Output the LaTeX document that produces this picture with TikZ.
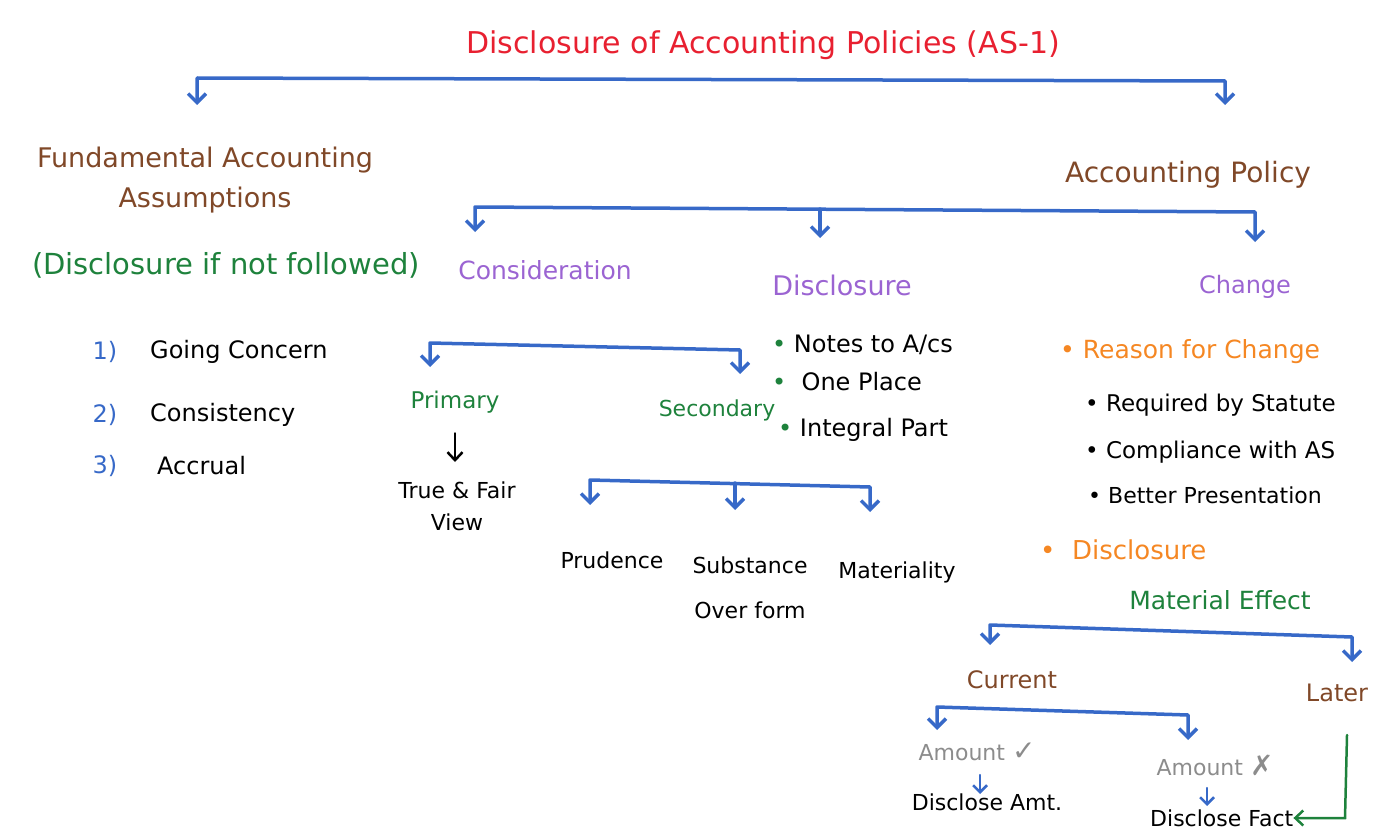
\documentclass[tikz,border=0pt]{standalone}
\usepackage{fontspec}
\setmainfont{DejaVu Sans}
\usepackage{tikz}
\usepackage{xcolor}
\usetikzlibrary{arrows.meta}
\definecolor{titlered}{RGB}{232,32,48}
\definecolor{headbrown}{RGB}{128,72,40}
\definecolor{notegreen}{RGB}{30,130,60}
\definecolor{subpurple}{RGB}{155,100,210}
\definecolor{branchblue}{RGB}{55,105,200}
\definecolor{reasonorange}{RGB}{245,135,35}
\definecolor{amtgrey}{RGB}{140,140,140}
\tikzset{
    hand/.style = {inner sep=0pt, font=\fontsize{24}{30}\selectfont},
    title-text/.style = {hand, text=titlered, font=\fontsize{30}{36}\selectfont},
    head-text/.style = {hand, text=headbrown},
    sub-text/.style = {hand, text=subpurple},
    note-text/.style = {hand, text=notegreen},
    item-text/.style = {hand, text=black},
    reason-text/.style = {hand, text=reasonorange},
    amt-text/.style = {hand, text=amtgrey},
    branch/.style = {draw=branchblue, line width=3.5pt, line cap=round, line join=round, >={Straight Barb[length=9pt,width=18pt]}, ->},
    tick-arrow/.style = {line width=2.5pt, line cap=round, -{Straight Barb[length=8pt,width=15pt]}},
}

\begin{document}
\begin{tikzpicture}[x=1pt,y=-1pt]
\useasboundingbox (0,0) rectangle (1380,832);

% title and the two main heads
\node[title-text] (title) at (763,45) {Disclosure of Accounting Policies (AS-1)};
\node[head-text, align=center, font=\fontsize{27}{40}\selectfont] (fund) at (205,180) {Fundamental Accounting\\Assumptions};
\node[note-text, font=\fontsize{29}{34}\selectfont] (fund-note) at (226,265) {(Disclosure if not followed)};
\node[head-text, font=\fontsize{28}{34}\selectfont] (policy) at (1188,175) {Accounting Policy};
\coordinate (fund-tip) at (197,105);
\coordinate (policy-tip) at (1225,105);
\draw[branch, <->] (fund-tip) -- (197,78) -- (1225,81) -- (policy-tip);

% assumptions
\node[hand, text=branchblue] (num1) at (105,352) {1)};
\node[hand, text=branchblue] (num2) at (105,415) {2)};
\node[hand, text=branchblue] (num3) at (105,466) {3)};
\node[item-text, anchor=west] (going) at (150,352) {Going Concern};
\node[item-text, anchor=west] (consist) at (150,415) {Consistency};
\node[item-text, anchor=west] (accrual) at (157,466) {Accrual};

% accounting policy split
\node[sub-text, font=\fontsize{25}{30}\selectfont] (consider) at (545,270) {Consideration};
\node[sub-text, font=\fontsize{27}{30}\selectfont] (disc) at (842,285) {Disclosure};
\node[sub-text] (change) at (1245,287) {Change};
\coordinate (consider-tip) at (475,232);
\coordinate (disc-tip) at (820,238);
\coordinate (change-tip) at (1255,242);
\draw[branch, <->] (consider-tip) -- (475,207) -- (1255,212) -- (change-tip);
\draw[branch] (820,209) -- (disc-tip);

% consideration
\node[note-text, font=\fontsize{23}{28}\selectfont] (primary) at (455,402) {Primary};
\node[note-text, font=\fontsize{22}{28}\selectfont] (secondary) at (717,410) {Secondary};
\coordinate (primary-tip) at (430,367);
\coordinate (secondary-tip) at (740,374);
\draw[branch, <->] (primary-tip) -- (430,343) -- (740,350) -- (secondary-tip);
\node[item-text, align=center, font=\fontsize{22}{32}\selectfont] (truefair) at (457,506) {True \& Fair\\View};
\draw[tick-arrow] (primary.south) ++(0,20) coordinate (primary-arrow) -- (455,462);
\node[item-text, font=\fontsize{22}{28}\selectfont] (prudence) at (612,560) {Prudence};
\node[item-text, align=center, font=\fontsize{22}{45}\selectfont] (substance) at (750,588) {Substance\\Over form};
\node[item-text, font=\fontsize{22}{28}\selectfont] (material) at (897,572) {Materiality};
\coordinate (prudence-tip) at (590,505);
\coordinate (substance-tip) at (735,510);
\coordinate (material-tip) at (870,512);
\draw[branch, <->] (prudence-tip) -- (590,480) -- (870,487) -- (material-tip);
\draw[branch] (735,483) -- (substance-tip);

% disclosure list
\node[item-text, anchor=west] (notes) at (772,345) {\textcolor{notegreen}{\textbullet} Notes to A/cs};
\node[item-text, anchor=west] (oneplace) at (772,382) {\textcolor{notegreen}{\textbullet}\ \ One Place};
\node[item-text, anchor=west] (integral) at (778,430) {\textcolor{notegreen}{\textbullet} Integral Part};

% change
\node[reason-text, anchor=west, font=\fontsize{25}{30}\selectfont] (reason) at (1060,352) {\textbullet\ Reason for Change};
\node[item-text, anchor=west, font=\fontsize{23}{28}\selectfont] (required) at (1085,405) {\textbullet\ Required by Statute};
\node[item-text, anchor=west, font=\fontsize{23}{28}\selectfont] (compliance) at (1085,452) {\textbullet\ Compliance with AS};
\node[item-text, anchor=west, font=\fontsize{22}{28}\selectfont] (better) at (1088,495) {\textbullet\ Better Presentation};
\node[reason-text, anchor=west, font=\fontsize{26}{30}\selectfont] (disclosure) at (1040,550) {\textbullet\ \ Disclosure};
\node[note-text, font=\fontsize{25}{30}\selectfont] (effect) at (1220,600) {Material Effect};
\node[head-text] (current) at (1012,680) {Current};
\node[head-text] (later) at (1337,693) {Later};
\coordinate (current-tip) at (990,645);
\coordinate (later-tip) at (1352,662);
\draw[branch, <->] (current-tip) -- (990,625) -- (1352,637) -- (later-tip);

% current effect
\node[amt-text, font=\fontsize{22}{28}\selectfont] (amt-yes) at (977,752) {Amount {\fontsize{28}{28}\selectfont ✓}};
\node[amt-text, font=\fontsize{22}{28}\selectfont] (amt-no) at (1215,765) {Amount {\fontsize{28}{28}\selectfont ✗}};
\coordinate (amt-yes-tip) at (937,730);
\coordinate (amt-no-tip) at (1188,740);
\draw[branch, <->] (amt-yes-tip) -- (937,707) -- (1188,715) -- (amt-no-tip);
\node[item-text, font=\fontsize{22}{28}\selectfont] (dis-amt) at (987,802) {Disclose Amt.};
\node[item-text, font=\fontsize{22}{28}\selectfont, anchor=west] (dis-fact) at (1150,818) {Disclose Fact};
\draw[branch, line width=2.5pt, >={Straight Barb[length=7pt,width=14pt]}] (980,775) -- (980,794);
\draw[branch, line width=2.5pt, >={Straight Barb[length=7pt,width=14pt]}] (1207,788) -- (1207,806);

% later effect
\coordinate (later-start) at (1347,735);
\draw[tick-arrow, draw=notegreen] (later-start) -- (1345,818) -- (dis-fact.east);
\end{tikzpicture}
\end{document}
